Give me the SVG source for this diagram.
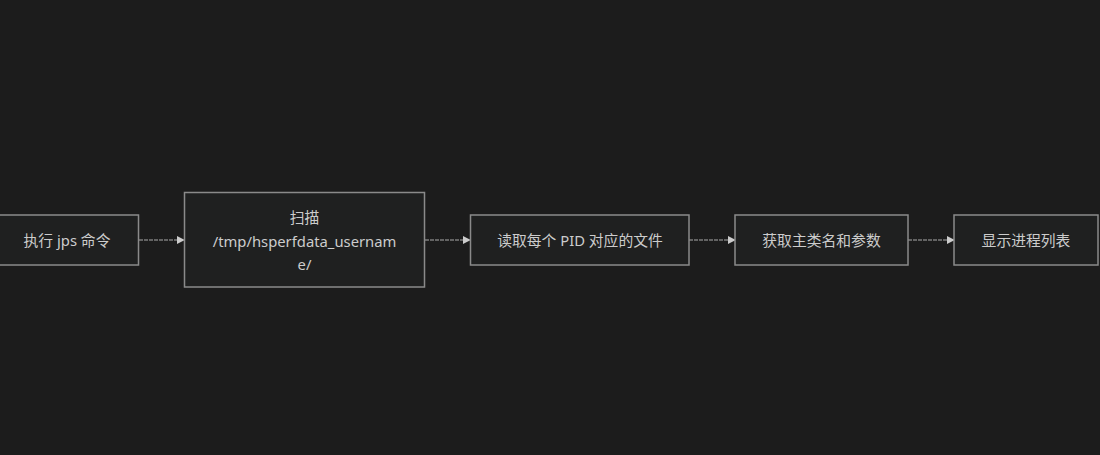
<svg xmlns="http://www.w3.org/2000/svg" width="1100" height="455" viewBox="0 0 1100 455">
<defs>
<marker id="arr" viewBox="0 0 10 10" refX="9" refY="5" markerWidth="8" markerHeight="8" markerUnits="userSpaceOnUse" orient="auto">
<path d="M0,0 L10,5 L0,10 z" fill="#cccccc"/>
</marker>
</defs>
<style>
.node rect{fill:#1f2020;stroke:#8a8a8a;stroke-width:1.5}
.node text{font-family:"Noto Sans","Noto Sans CJK SC",sans-serif;font-size:14.8px;fill:#cccccc;text-anchor:middle;dominant-baseline:central}
.edge{stroke:#aaaaaa;stroke-width:1.2;stroke-dasharray:4,1;fill:none;marker-end:url(#arr)}
</style>
<rect x="0" y="0" width="1100" height="455" fill="#1c1c1c"/>
<g id="connectors">
<line class="edge" x1="139" y1="240" x2="184" y2="240"/>
<line class="edge" x1="425" y1="240" x2="470" y2="240"/>
<line class="edge" x1="689" y1="240" x2="735" y2="240"/>
<line class="edge" x1="908" y1="240" x2="954" y2="240"/>
</g>
<g id="n1" class="node"><rect x="-1" y="215" width="139.5" height="50"/><text x="67" y="240">执行 jps 命令</text></g>
<g id="n2" class="node"><rect x="184.5" y="192.5" width="240" height="94.5"/><text x="304.5" y="217">扫描</text><text x="304.5" y="240.5">/tmp/hsperfdata_usernam</text><text x="304.5" y="263.5">e/</text></g>
<g id="n3" class="node"><rect x="470.5" y="215" width="218.5" height="50"/><text x="580" y="240">读取每个 PID 对应的文件</text></g>
<g id="n4" class="node"><rect x="735" y="215" width="173" height="50"/><text x="821.5" y="240">获取主类名和参数</text></g>
<g id="n5" class="node"><rect x="954" y="215" width="144" height="50"/><text x="1026" y="240">显示进程列表</text></g>
</svg>
